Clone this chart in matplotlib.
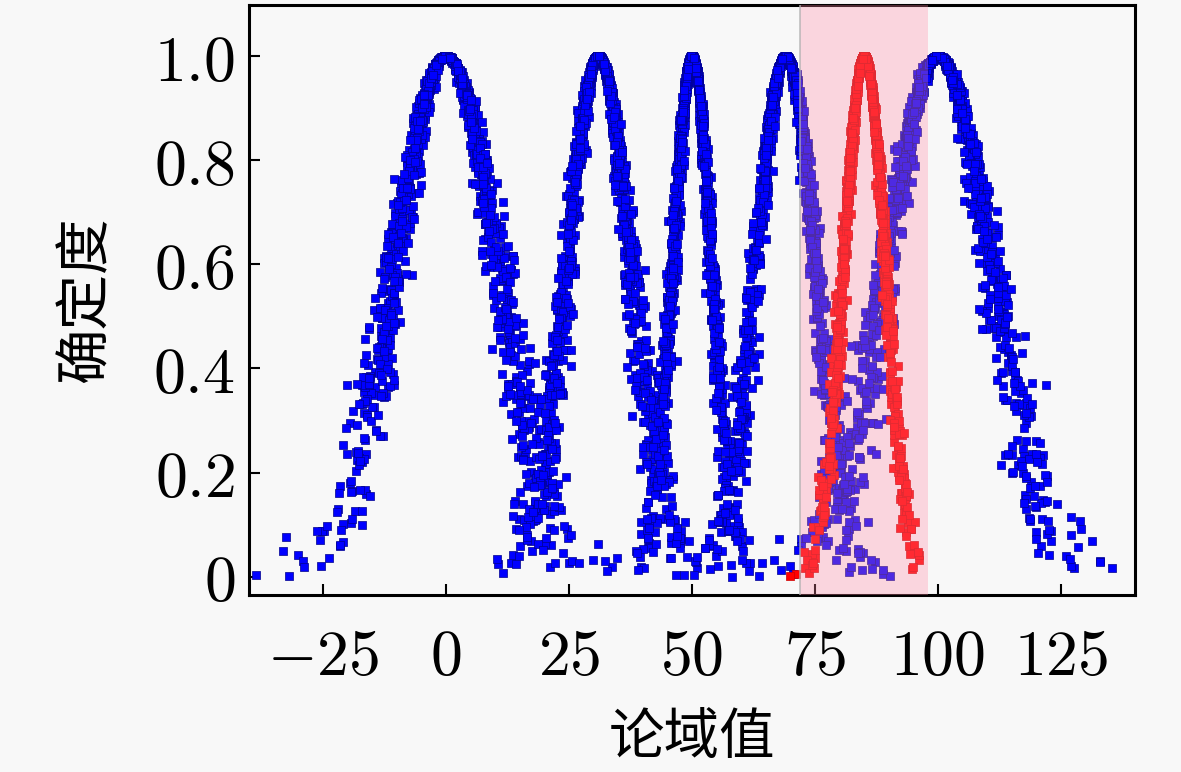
import numpy as np
import matplotlib
matplotlib.use("Agg")
import matplotlib.pyplot as plt

# Cloud model parameters (Ex, En, He)
blue_Ex = [0, 31, 50, 69, 100]
blue_En = [10.5, 6.4, 3.9, 6.0, 10.5]
blue_He = [1.5, 0.9, 0.5, 0.8, 1.4]
red_Ex = 85
red_En = 4.2
red_He = 0.4
n_drops = 1200
band = [72, 98]

xticks = [-25, 0, 25, 50, 75, 100, 125]
xticklabels = ["$-25$", "$0$", "$25$", "$50$", "$75$", "$100$", "$125$"]
yticks = [0, 0.2, 0.4, 0.6, 0.8, 1.0]
yticklabels = ["$0$", "$0.2$", "$0.4$", "$0.6$", "$0.8$", "$1.0$"]
xlabel = "论域值"
ylabel = "确定度"

rng = np.random.default_rng(7)


def cloud(ex, en, he, n):
    enn = np.abs(rng.normal(en, he, n))
    x = rng.normal(ex, enn)
    y = np.exp(-(x - ex) ** 2 / (2 * enn ** 2))
    return x, y


plt.rcParams['mathtext.fontset'] = 'cm'
fig = plt.figure(figsize=(11.81, 7.72), dpi=100, facecolor='#f8f8f8')
ax = fig.add_axes([0.2108, 0.2293, 0.7502, 0.7642])
ax.set_facecolor('#f8f8f8')

for ex, en, he in zip(blue_Ex, blue_En, blue_He):
    x, y = cloud(ex, en, he, n_drops)
    ax.scatter(x, y, s=28, marker='s', c='#0000ff', edgecolors='#00008b',
               linewidths=0.5, zorder=2)
x, y = cloud(red_Ex, red_En, red_He, n_drops)
ax.scatter(x, y, s=28, marker='s', c='#ff0000', edgecolors='#cc0000',
           linewidths=0.5, zorder=3)

ax.axvspan(band[0], band[1], color='#ff8aa4', alpha=0.31, lw=0, zorder=4)
ax.axvline(band[0], color='#b0b0b0', lw=1.2, alpha=0.8, zorder=4)

ax.set_xlim(-40, 140)
ax.set_ylim(-0.035, 1.098)
ax.set_xticks(xticks)
ax.set_xticklabels(xticklabels)
ax.set_yticks(yticks)
ax.set_yticklabels(yticklabels)
ax.tick_params(axis='both', direction='in', length=8, width=1.5,
               labelsize=46, top=False, right=False)
ax.tick_params(axis='x', pad=22)
ax.tick_params(axis='y', pad=10)
for sp in ax.spines.values():
    sp.set_linewidth(2.2)

ax.set_xlabel(xlabel, fontsize=40, family=['Noto Sans CJK SC', 'DejaVu Sans'], labelpad=16)
ax.set_ylabel(ylabel, fontsize=40, family=['Noto Sans CJK SC', 'DejaVu Sans'], labelpad=28)

fig.savefig('out.png', dpi=100, facecolor='#f8f8f8')
